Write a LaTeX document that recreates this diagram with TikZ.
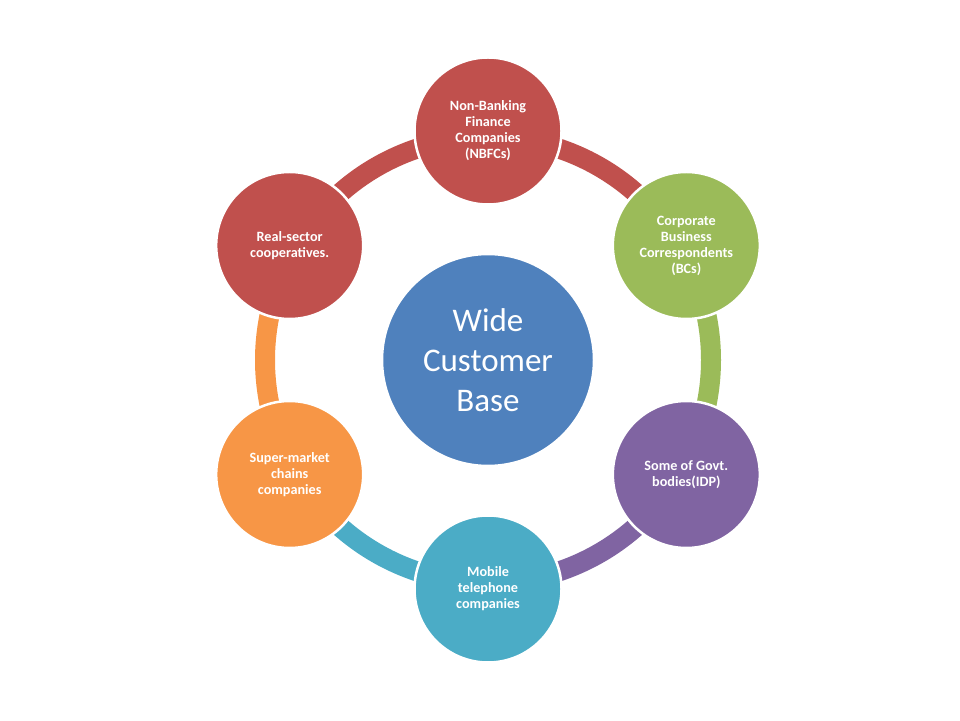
\documentclass[tikz,border=0pt]{standalone}
\usepackage{fontspec}
\setmainfont{Carlito}
\usetikzlibrary{backgrounds,calc}
\definecolor{cred}{HTML}{C0504D}
\definecolor{cgreen}{HTML}{9BBB59}
\definecolor{cpurple}{HTML}{8064A2}
\definecolor{cteal}{HTML}{4BACC6}
\definecolor{corange}{HTML}{F79646}
\definecolor{cblue}{HTML}{4F81BD}
\tikzset{
  sat/.style={circle, draw=white, line width=2.5pt, minimum size=147pt, inner sep=0pt,
    text=white, align=center, font=\fontsize{14.2}{16}\selectfont\bfseries},
  hub/.style={circle, draw=white, line width=2.5pt, minimum size=212pt, inner sep=0pt,
    fill=cblue, text=white, align=center, font=\fontsize{33}{40}\selectfont},
  ring/.style={line width=20pt}
}
\begin{document}
\begin{tikzpicture}[x=1pt,y=1pt]
\useasboundingbox (0,0) rectangle (960,720);
\coordinate (C) at (488,360);
\node[hub] (hub) at (C) {Wide\\Customer\\Base};
\node[sat, fill=cred]    (n1) at ($(C)+(90:229)$) {Non-Banking\\Finance\\Companies\\(NBFCs)};
\node[sat, fill=cgreen]  (n2) at ($(C)+(30:229)$) {Corporate\\Business\\Correspondents\\(BCs)};
\node[sat, fill=cpurple] (n3) at ($(C)+(-30:229)$) {Some of Govt.\\bodies(IDP)};
\node[sat, fill=cteal]   (n4) at ($(C)+(-90:229)$) {Mobile\\telephone\\companies};
\node[sat, fill=corange] (n5) at ($(C)+(-150:229)$) {Super-market\\chains\\companies};
\node[sat, fill=cred]    (n6) at ($(C)+(150:229)$) {Real-sector\\cooperatives.};
\begin{scope}[on background layer]
\coordinate (r1) at ($(C)+(90:223)$);
\coordinate (r2) at ($(C)+(30:223)$);
\coordinate (r3) at ($(C)+(-30:223)$);
\coordinate (r4) at ($(C)+(-90:223)$);
\coordinate (r5) at ($(C)+(-150:223)$);
\coordinate (r6) at ($(C)+(150:223)$);
\draw[ring, cred]    (r1) arc[start angle=90,   end angle=30,   radius=223];
\draw[ring, cgreen]  (r2) arc[start angle=30,   end angle=-30,  radius=223];
\draw[ring, cpurple] (r3) arc[start angle=-30,  end angle=-90,  radius=223];
\draw[ring, cteal]   (r4) arc[start angle=-90,  end angle=-150, radius=223];
\draw[ring, corange] (r5) arc[start angle=-150, end angle=-210, radius=223];
\draw[ring, cred]    (r6) arc[start angle=150,  end angle=90,   radius=223];
\end{scope}
\end{tikzpicture}
\end{document}
